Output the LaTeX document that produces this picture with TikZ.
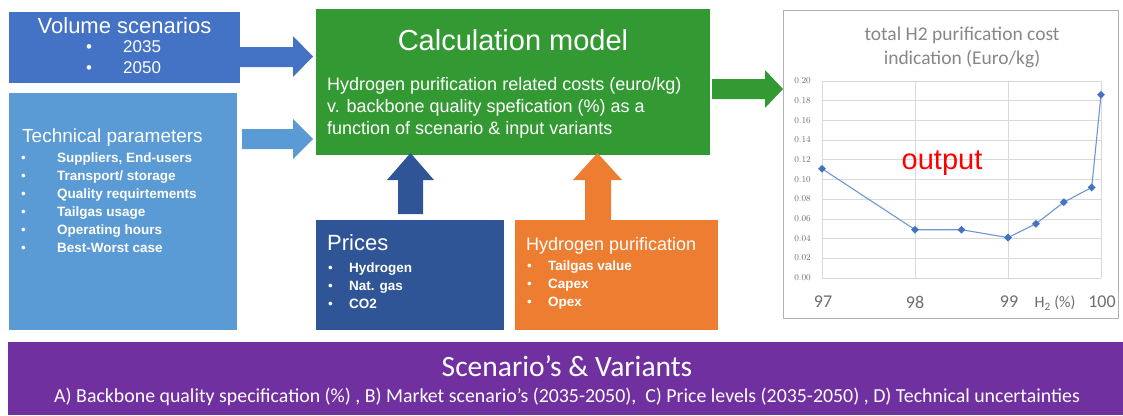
\documentclass[tikz,border=0pt]{standalone}
\usepackage{fontspec}
\usetikzlibrary{shapes.geometric}
\setmainfont{Liberation Sans}
\newfontfamily\calfont{Carlito}
\definecolor{volblue}{RGB}{68,114,196}
\definecolor{techblue}{RGB}{91,155,213}
\definecolor{calcgreen}{RGB}{51,153,51}
\definecolor{priceblue}{RGB}{47,85,151}
\definecolor{purorange}{RGB}{237,125,49}
\definecolor{scenpurple}{RGB}{112,48,160}
\definecolor{gridgray}{RGB}{217,217,217}
\definecolor{labgray}{RGB}{110,110,110}
\definecolor{titlegray}{RGB}{135,135,135}
\definecolor{lineblue}{RGB}{110,150,215}
\newcommand{\fs}[1]{\fontsize{#1}{#1}\selectfont}
\begin{document}
\begin{tikzpicture}[x=1pt,y=-1pt,
  txt/.style={text=white,inner sep=0pt,anchor=mid west},
  ttl/.style={text=white,inner sep=0pt},
  grid/.style={draw=gridgray,line width=0.8pt},
  ylab/.style={text=labgray,inner sep=0pt,anchor=mid east,font=\calfont\fs{9.5}},
  xlab/.style={text=labgray,inner sep=0pt,font=\calfont\fs{18}},
  mk/.style={fill=volblue,draw=none,diamond,minimum size=8pt,inner sep=0pt}
]
\useasboundingbox (0,0) rectangle (1123,415);
% boxes
\fill[volblue] (9,12) rectangle (240,83);
\fill[techblue] (9,93) rectangle (237,330);
\fill[calcgreen] (316,9) rectangle (710,155);
\fill[priceblue] (316,220) rectangle (504,330);
\fill[purorange] (515,220) rectangle (718,330);
\fill[scenpurple] (8,342) rectangle (1123,415);
\draw[draw=gray!60,fill=white,line width=0.8pt] (783,10) rectangle (1118,318);

% block arrows
\fill[volblue] (240,47) -- (293,47) -- (293,36) -- (313,56.5) -- (293,77) -- (293,67) -- (240,67) -- cycle;
\fill[techblue] (242,129) -- (293,129) -- (293,119) -- (313,139) -- (293,159) -- (293,149) -- (242,149) -- cycle;
\fill[calcgreen] (712,79) -- (765,79) -- (765,70) -- (783,89) -- (765,108) -- (765,99) -- (712,99) -- cycle;
\fill[priceblue] (398,214) -- (398,180) -- (387,180) -- (410.5,153) -- (434,180) -- (423,180) -- (423,214) -- cycle;
\fill[purorange] (585,220) -- (585,180) -- (573,180) -- (597.5,153) -- (622,180) -- (611,180) -- (611,220) -- cycle;

% Volume scenarios
\node[ttl,font=\fs{22}] (voltitle) at (124.5,26) {Volume scenarios};
\node[txt,font=\fs{17}] (volb1) at (86,50) {•};
\node[txt,font=\fs{17}] (vol1) at (123,50) {2035};
\node[txt,font=\fs{17}] (volb2) at (86,71) {•};
\node[txt,font=\fs{17}] (vol2) at (123,71) {2050};

% Technical parameters
\node[txt,font=\fs{19}] (techtitle) at (22,140) {Technical parameters};
\foreach \t [count=\i] in {{Suppliers, End-users},Transport/ storage,Quality requirtements,Tailgas usage,Operating hours,Best-Worst case}{
  \node[txt,font=\fs{13.5}] (techb\i) at (21,{160+18*(\i-1)}) {•};
  \node[txt,font=\bfseries\fs{13.5}] (tech\i) at (57,{160+18*(\i-1)}) {\t};
}

% Calculation model
\node[ttl,font=\fs{29}] (calctitle) at (513,40) {Calculation model};
\node[txt,font=\fs{18}] (calc1) at (327,88) {Hydrogen purification related costs (euro/kg)};
\node[txt,font=\fs{18}] (calc2) at (327,110) {v. backbone quality spefication (\%) as a};
\node[txt,font=\fs{18}] (calc3) at (327,132) {function of scenario \& input variants};

% Prices
\node[txt,font=\fs{22}] (pricetitle) at (327,248) {Prices};
\foreach \t [count=\i] in {Hydrogen,Nat. gas,CO2}{
  \node[txt,font=\fs{13.5}] (priceb\i) at (328,{270+18*(\i-1)}) {•};
  \node[txt,font=\bfseries\fs{13.5}] (price\i) at (349,{270+18*(\i-1)}) {\t};
}

% Hydrogen purification
\node[txt,font=\fs{18}] (purtitle) at (526,248) {Hydrogen purification};
\foreach \t [count=\i] in {Tailgas value,Capex,Opex}{
  \node[txt,font=\fs{13.5}] (purb\i) at (527,{268+18*(\i-1)}) {•};
  \node[txt,font=\bfseries\fs{13.5}] (pur\i) at (548,{268+18*(\i-1)}) {\t};
}

% Scenario's & Variants
\node[ttl,font=\calfont\fs{29.5}] (scentitle) at (567,366) {Scenario’s \& Variants};
\node[ttl,font=\calfont\fs{19.85}] (scentext) at (567,397) {A) Backbone quality specification (\%) , B) Market scenario’s (2035-2050),\ \ C) Price levels (2035-2050) , D) Technical uncertainties};

% Chart
\node[text=titlegray,inner sep=0pt,font=\calfont\fs{19.5}] (charttitle1) at (962,35) {total H2 purification cost};
\node[text=titlegray,inner sep=0pt,font=\calfont\fs{19.5}] (charttitle2) at (962,59) {indication (Euro/kg)};
\foreach \k in {0,...,10}{
  \draw[grid] (822,{278-19.7*\k}) -- (1101,{278-19.7*\k});
  \pgfmathsetmacro{\lab}{0.02*\k}
  \node[ylab] (ylab\k) at (811,{278-19.7*\k}) {\pgfmathprintnumber[fixed,fixed zerofill,precision=2]{\lab}};
}
\foreach \xx in {822,915,1008,1101}{
  \draw[grid] (\xx,81) -- (\xx,278);
}
\coordinate (p1) at (822,168.7);
\coordinate (p2) at (915,229.7);
\coordinate (p3) at (961.5,229.7);
\coordinate (p4) at (1008,237.6);
\coordinate (p5) at (1035.9,223.8);
\coordinate (p6) at (1063.8,202.2);
\coordinate (p7) at (1091.7,187.4);
\coordinate (p8) at (1101,94.8);
\draw[lineblue,line width=1.1pt] (p1) -- (p2) -- (p3) -- (p4) -- (p5) -- (p6) -- (p7) -- (p8);
\foreach \i in {1,...,8}{ \node[mk] (m\i) at (p\i) {}; }
\node[xlab] (x97) at (823,302) {97};
\node[xlab] (x98) at (915,302) {98};
\node[xlab] (x99) at (1009,302) {99};
\node[text=labgray,inner sep=0pt,font=\calfont\fs{16}] (xh2) at (1055,303) {H\textsubscript{2} (\%)};
\node[xlab] (x100) at (1102,302) {100};
\node[text=red,inner sep=0pt,font=\fs{29}] (output) at (942,163) {output};
\end{tikzpicture}
\end{document}
